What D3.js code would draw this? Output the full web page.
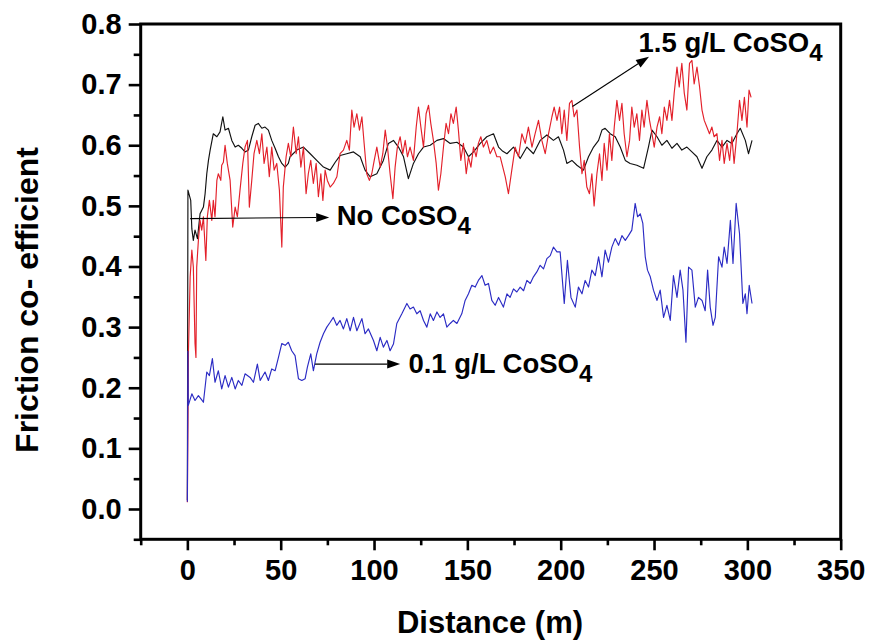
<!DOCTYPE html>
<html>
<head>
<meta charset="utf-8">
<script src="https://cdn.jsdelivr.net/npm/d3@7"></script>
<style>
  body { margin: 0; background: #fff; }
  text { font-family: "Liberation Sans", Arial, sans-serif; font-weight: bold; fill: #000; }
</style>
</head>
<body>
<svg id="chart" width="871" height="643"></svg>
<script>
// Friction coefficient vs sliding distance, [distance (m), coefficient]
const noCoSO4 = [[0,0.015],[0.3,0.526],[1.8,0.509],[2.4,0.462],[3.2,0.443],[4.1,0.46],[5.4,0.446],[6.8,0.487],[8.6,0.498],[9.5,0.52],[10.4,0.553],[11.3,0.575],[12.2,0.592],[13.9,0.619],[15.8,0.614],[17.5,0.622],[19,0.647],[20.2,0.625],[22,0.628],[23.8,0.608],[25.6,0.597],[27.3,0.6],[29.2,0.595],[30.9,0.589],[32.7,0.592],[34.5,0.614],[36.3,0.633],[38,0.636],[39.9,0.628],[41.6,0.63],[43.4,0.625],[45.2,0.608],[47,0.595],[48.8,0.581],[50.6,0.57],[52.4,0.564],[54.1,0.57],[55,0.581],[58.6,0.592],[62.2,0.597],[65.8,0.586],[69.3,0.575],[72.9,0.564],[76.5,0.559],[79.2,0.572],[81.8,0.583],[85.4,0.586],[89,0.589],[92.6,0.581],[95.2,0.559],[97.9,0.548],[101.5,0.553],[105,0.575],[107.7,0.603],[110.4,0.608],[113.1,0.597],[115.8,0.581],[118.4,0.545],[121.1,0.57],[123.8,0.586],[126.5,0.597],[130.1,0.6],[133.7,0.608],[137.2,0.611],[140.8,0.603],[144.4,0.605],[147.9,0.597],[150.6,0.581],[153.3,0.589],[156.9,0.603],[160.4,0.614],[164,0.619],[166.7,0.597],[169,0.59],[171.2,0.586],[174.7,0.597],[178.3,0.578],[181.9,0.597],[185.4,0.586],[189,0.608],[192.6,0.617],[196.1,0.608],[198.8,0.614],[201.5,0.592],[203.3,0.57],[206,0.575],[208.7,0.567],[212.2,0.559],[214.9,0.581],[217.6,0.597],[220.3,0.608],[222.1,0.625],[223.8,0.628],[226.5,0.619],[229.2,0.614],[231.9,0.597],[234.6,0.575],[237.2,0.57],[240.8,0.567],[244.4,0.562],[247,0.597],[248.9,0.625],[251.6,0.614],[254.2,0.6],[256.9,0.608],[259.6,0.595],[262.3,0.603],[264.9,0.592],[267.6,0.597],[270.3,0.589],[273,0.581],[275.7,0.562],[278.3,0.581],[281,0.592],[283.7,0.608],[286.4,0.597],[289.1,0.608],[291.7,0.603],[294.4,0.619],[296.2,0.628],[298.9,0.608],[300.6,0.586],[302.5,0.608]];

const coSO4_15 = [[0,0.011],[0.6,0.262],[1.5,0.383],[2.4,0.427],[3.2,0.399],[4.1,0.273],[4.6,0.25],[5,0.399],[5.9,0.443],[6.8,0.476],[7.7,0.46],[8.6,0.482],[9.9,0.41],[10.7,0.482],[11.8,0.509],[13.1,0.476],[13.9,0.509],[14.8,0.482],[15.8,0.542],[16.6,0.553],[17.9,0.542],[18.4,0.567],[19.3,0.572],[20.2,0.6],[21.4,0.57],[22.9,0.542],[24.3,0.465],[25.6,0.498],[26.8,0.482],[28.2,0.526],[29.7,0.57],[30.9,0.597],[32.2,0.608],[33.2,0.498],[34.5,0.542],[35.7,0.586],[37.2,0.608],[38.6,0.586],[39.9,0.619],[41.1,0.57],[42.6,0.597],[43.9,0.548],[45.2,0.597],[46.5,0.559],[47.9,0.57],[49.3,0.526],[50.6,0.432],[51.4,0.531],[52.9,0.581],[54.1,0.603],[55.4,0.581],[56.8,0.63],[58.3,0.586],[59.5,0.614],[60.8,0.564],[62.2,0.597],[63.6,0.52],[64.8,0.553],[66.1,0.575],[67.5,0.537],[69,0.57],[70.2,0.515],[71.5,0.553],[72.6,0.509],[73.8,0.559],[75,0.542],[76.5,0.531],[78.2,0.537],[80.1,0.548],[81.8,0.586],[83.6,0.592],[85.4,0.608],[86.8,0.592],[88.1,0.658],[89.3,0.63],[90.8,0.652],[92.2,0.625],[93.5,0.647],[94.7,0.603],[96.1,0.553],[97.5,0.542],[98.8,0.553],[100.1,0.575],[101.5,0.597],[103.3,0.564],[104.7,0.586],[106,0.625],[107.2,0.597],[108.6,0.553],[110.1,0.512],[111.3,0.564],[112.5,0.597],[114,0.614],[115.4,0.586],[116.7,0.608],[117.9,0.581],[119.3,0.597],[121.1,0.575],[122.6,0.63],[123.8,0.663],[125.1,0.63],[126.5,0.597],[127.9,0.652],[129.2,0.666],[130.4,0.636],[131.8,0.608],[133.3,0.57],[134.5,0.526],[135.8,0.553],[137.2,0.597],[138.6,0.636],[139.9,0.619],[141.2,0.652],[142.5,0.636],[144,0.663],[145.2,0.625],[146.5,0.575],[147.9,0.603],[149.4,0.553],[150.6,0.581],[151.9,0.564],[153.3,0.597],[154.7,0.581],[155.9,0.603],[157.2,0.614],[158.6,0.597],[160.4,0.608],[162.2,0.586],[164,0.597],[165.8,0.581],[167.6,0.581],[170.3,0.548],[172,0.52],[173.8,0.559],[175.6,0.597],[177.4,0.581],[179.2,0.619],[181,0.603],[182.7,0.63],[184.6,0.597],[186.3,0.619],[188.1,0.641],[189.9,0.608],[191.7,0.586],[193.5,0.619],[195.3,0.647],[196.5,0.663],[198,0.641],[199.4,0.663],[200.6,0.619],[201.9,0.658],[203.3,0.608],[204.7,0.669],[206,0.674],[207.2,0.647],[208.7,0.658],[210.1,0.597],[211.4,0.553],[212.6,0.575],[214,0.531],[215.4,0.52],[216.7,0.553],[217.9,0.5],[219.4,0.553],[220.8,0.586],[222.1,0.542],[223.3,0.603],[224.8,0.559],[226.1,0.619],[227.4,0.575],[228.7,0.63],[230.1,0.674],[231.5,0.641],[232.8,0.669],[234,0.619],[235.5,0.581],[236.9,0.608],[238.1,0.663],[239.4,0.63],[240.8,0.652],[242.2,0.608],[243.5,0.658],[244.7,0.63],[246.2,0.674],[247.6,0.641],[248.9,0.619],[250.1,0.597],[251.6,0.63],[253,0.647],[254.2,0.619],[255.5,0.663],[256.9,0.641],[258.3,0.674],[259.6,0.641],[260.8,0.686],[262.3,0.729],[263.5,0.696],[264.9,0.735],[266.2,0.686],[267.6,0.658],[269,0.735],[270.3,0.74],[271.5,0.701],[273,0.729],[274.4,0.696],[275.7,0.658],[276.9,0.641],[278.3,0.63],[279.7,0.619],[281,0.63],[282.2,0.614],[283.7,0.619],[285.1,0.575],[286.4,0.608],[287.6,0.57],[289.1,0.603],[290.5,0.575],[291.7,0.614],[292.9,0.57],[294.4,0.619],[295.8,0.674],[297.1,0.641],[298.4,0.679],[299.8,0.63],[300.9,0.691],[302,0.679]];

const coSO4_01 = [[0,0.012],[0.3,0.26],[0.5,0.171],[2.4,0.19],[4.1,0.179],[5.9,0.187],[7.7,0.18],[8.6,0.176],[10.4,0.226],[11.8,0.22],[13.4,0.248],[14.8,0.209],[16.6,0.228],[18.4,0.198],[20.2,0.22],[22,0.201],[23.8,0.217],[25.6,0.198],[27.3,0.212],[29.2,0.204],[30.9,0.223],[33.6,0.217],[35.4,0.209],[37.5,0.239],[39,0.212],[41.6,0.226],[43.4,0.212],[45.2,0.231],[47,0.228],[48.8,0.25],[50.6,0.273],[52.4,0.27],[54.1,0.275],[55.9,0.261],[57.7,0.253],[59.5,0.215],[61.3,0.212],[63.1,0.215],[64.3,0.234],[66.1,0.256],[67.5,0.228],[69.3,0.256],[71.1,0.275],[72.9,0.289],[74.7,0.3],[76.5,0.308],[78.2,0.316],[80,0.303],[81.8,0.311],[83.6,0.297],[85.4,0.314],[87.2,0.294],[89,0.316],[90.8,0.294],[93.5,0.314],[95.2,0.289],[97,0.297],[99.7,0.278],[101.5,0.261],[103.3,0.283],[105,0.267],[106.9,0.278],[108.6,0.261],[110.4,0.272],[112.2,0.306],[114.9,0.322],[117.6,0.339],[119.3,0.33],[121.1,0.333],[122.9,0.322],[124.7,0.327],[126.5,0.311],[128.3,0.3],[130.1,0.322],[131.8,0.311],[133.7,0.325],[135.4,0.316],[137.2,0.322],[139,0.3],[140.8,0.306],[142.5,0.311],[144.4,0.306],[147,0.322],[148.8,0.344],[150.6,0.355],[152.4,0.369],[154.2,0.366],[155.9,0.377],[157.8,0.385],[159.5,0.369],[161.3,0.372],[163.1,0.344],[164.9,0.336],[166.7,0.349],[169.3,0.333],[171.2,0.355],[172.9,0.349],[174.7,0.363],[176.5,0.358],[178.3,0.366],[180.1,0.36],[181.9,0.377],[183.7,0.372],[185.4,0.383],[187.2,0.391],[189,0.402],[190.8,0.396],[192.6,0.413],[194.4,0.418],[196.1,0.432],[198,0.424],[199.7,0.424],[201.9,0.339],[203.6,0.41],[205.5,0.349],[207.8,0.333],[209.5,0.366],[211.4,0.355],[213.1,0.377],[214.9,0.366],[216.7,0.394],[218.5,0.385],[220.3,0.416],[222.1,0.383],[223.8,0.427],[225.6,0.407],[227.4,0.432],[229.2,0.446],[231,0.435],[232.8,0.451],[234.6,0.443],[236.3,0.451],[238.1,0.46],[239.9,0.504],[241.2,0.482],[242.6,0.487],[244,0.471],[245.3,0.416],[246.5,0.394],[248,0.383],[249.7,0.361],[251.6,0.344],[253.3,0.361],[255.1,0.316],[256.9,0.336],[258.7,0.311],[260.4,0.385],[262.3,0.349],[264,0.394],[265.5,0.361],[267.1,0.275],[268.5,0.399],[270.3,0.394],[272.1,0.333],[273.8,0.349],[275.7,0.344],[277.4,0.327],[278.7,0.394],[280.1,0.333],[281.6,0.303],[282.8,0.316],[284.6,0.416],[286.4,0.399],[287.6,0.432],[289.1,0.405],[290.9,0.476],[292.3,0.405],[294,0.504],[295.8,0.454],[297.6,0.339],[298.9,0.355],[299.8,0.322],[301,0.369],[302.5,0.339]];

// Axis ticks
const xTicks = [0, 50, 100, 150, 200, 250, 300, 350];
const xMinorTicks = [-25, 25, 75, 125, 175, 225, 275, 325];
const yTicks = [0, 0.1, 0.2, 0.3, 0.4, 0.5, 0.6, 0.7, 0.8];
const yMinorTicks = [-0.05, 0.05, 0.15, 0.25, 0.35, 0.45, 0.55, 0.65, 0.75];

// Series drawing order and colours
const series = [
  { name: "No CoSO4", data: noCoSO4, color: "#111111" },
  { name: "1.5 g/L CoSO4", data: coSO4_15, color: "#e3202a" },
  { name: "0.1 g/L CoSO4", data: coSO4_01, color: "#2b2bc4" }
];

// Callout labels with arrows (data coordinates)
const notes = [
  { text: "No CoSO", sub: "4", tail: [1.5, 0.479], tip: [76, 0.481], at: [80, 0.468] },
  { text: "1.5 g/L CoSO", sub: "4", tail: [206.3, 0.664], tip: [247.3, 0.746], at: [241.7, 0.754] },
  { text: "0.1 g/L CoSO", sub: "4", tail: [68.4, 0.239], tip: [114, 0.239], at: [118.4, 0.225] }
];

const svg = d3.select("#chart");
const plotLeft = 140.7, plotRight = 840.7, plotTop = 24, plotBottom = 539.3;

const x = d3.scaleLinear().domain([-25, 350]).range([plotLeft, plotRight]);
const y = d3.scaleLinear().domain([-0.05, 0.8]).range([plotBottom, plotTop]);

// Data lines
const line = d3.line().x(d => x(d[0])).y(d => y(d[1]));
svg.append("g").selectAll("path").data(series).join("path")
  .attr("d", s => line(s.data))
  .attr("fill", "none")
  .attr("stroke", s => s.color)
  .attr("stroke-width", 1.15)
  .attr("stroke-linejoin", "round");

// Axes
const xAxis = svg.append("g").attr("transform", `translate(0,${plotBottom})`)
  .call(d3.axisBottom(x).tickValues(xTicks).tickSize(11).tickPadding(9).tickFormat(d3.format("d")));
const xMinor = svg.append("g").attr("transform", `translate(0,${plotBottom})`)
  .call(d3.axisBottom(x).tickValues(xMinorTicks).tickSize(6).tickFormat(""));
const yAxis = svg.append("g").attr("transform", `translate(${plotLeft},0)`)
  .call(d3.axisLeft(y).tickValues(yTicks).tickSize(12).tickPadding(7).tickFormat(d3.format(".1f")));
const yMinor = svg.append("g").attr("transform", `translate(${plotLeft},0)`)
  .call(d3.axisLeft(y).tickValues(yMinorTicks).tickSize(7).tickFormat(""));

[xAxis, xMinor, yAxis, yMinor].forEach(g => {
  g.select(".domain").remove();
  g.selectAll(".tick line").attr("stroke", "#000").attr("stroke-width", 2.6);
});
xAxis.selectAll(".tick text").attr("font-size", 29).attr("fill", "#000")
  .attr("font-family", "Liberation Sans, Arial, sans-serif").attr("font-weight", "bold");
yAxis.selectAll(".tick text").attr("font-size", 29).attr("fill", "#000")
  .attr("font-family", "Liberation Sans, Arial, sans-serif").attr("font-weight", "bold");

// Frame
svg.append("rect")
  .attr("x", plotLeft).attr("y", plotTop)
  .attr("width", plotRight - plotLeft).attr("height", plotBottom - plotTop)
  .attr("fill", "none").attr("stroke", "#000").attr("stroke-width", 3);

// Axis titles
svg.append("text")
  .attr("x", 490).attr("y", 633)
  .attr("text-anchor", "middle").attr("font-size", 31)
  .text("Distance (m)");
svg.append("text")
  .attr("transform", "translate(38,300) rotate(-90)")
  .attr("text-anchor", "middle").attr("font-size", 32)
  .text("Friction co- efficient");

// Callouts
const ann = svg.append("g");
notes.forEach(n => {
  const x1 = x(n.tail[0]), y1 = y(n.tail[1]);
  const x2 = x(n.tip[0]), y2 = y(n.tip[1]);
  const ang = Math.atan2(y2 - y1, x2 - x1);
  const len = 13, hw = 4.5;
  const bx = x2 - len * Math.cos(ang), by = y2 - len * Math.sin(ang);
  ann.append("line")
    .attr("x1", x1).attr("y1", y1).attr("x2", bx).attr("y2", by)
    .attr("stroke", "#000").attr("stroke-width", 1.1);
  ann.append("polygon")
    .attr("points", [
      [x2, y2],
      [bx + hw * Math.sin(ang), by - hw * Math.cos(ang)],
      [bx - hw * Math.sin(ang), by + hw * Math.cos(ang)]
    ].map(p => p.join(",")).join(" "))
    .attr("fill", "#000");
  const t = ann.append("text")
    .attr("x", x(n.at[0])).attr("y", y(n.at[1]))
    .attr("font-size", 27.5);
  t.append("tspan").text(n.text);
  t.append("tspan").attr("font-size", 24).attr("dy", 9).text(n.sub);
});
</script>
</body>
</html>
